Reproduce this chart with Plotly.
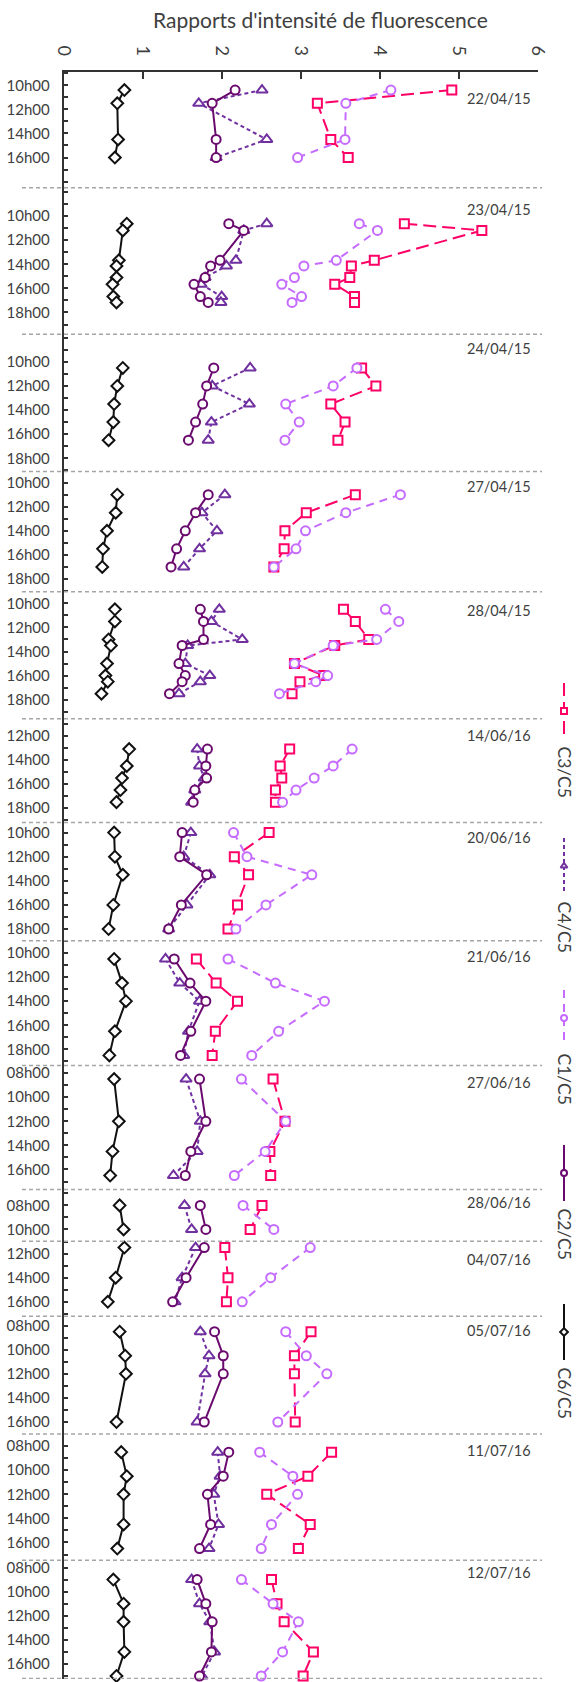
import math
import plotly.graph_objects as go

# ---------------- data ----------------
dates = ["22/04/15", "23/04/15", "24/04/15", "27/04/15", "28/04/15", "14/06/16", "20/06/16",
         "21/06/16", "27/06/16", "28/06/16", "04/07/16", "05/07/16", "11/07/16", "12/07/16"]

# sampling hours (decimal) per day
times = [
    [10.4, 11.5, 14.5, 16.0],
    [10.63, 11.19, 13.67, 14.14, 15.1, 15.66, 16.68, 17.17],
    [10.5, 12.0, 13.5, 15.0, 16.5],
    [11.0, 12.5, 14.0, 15.5, 17.0],
    [10.5, 11.5, 13.0, 13.5, 15.0, 16.0, 16.5, 17.5],
    [13.1, 14.5, 15.5, 16.5, 17.5],
    [10.0, 12.0, 13.5, 16.0, 18.0],
    [10.5, 12.5, 14.0, 16.5, 18.5],
    [8.5, 12.0, 14.5, 16.5],
    [8.0, 10.0],
    [11.5, 14.0, 16.0],
    [8.5, 10.5, 12.0, 16.0],
    [8.5, 10.5, 12.0, 14.5, 16.5],
    [9.0, 11.0, 12.5, 15.0, 17.0],
]

c6_c5 = [
    [0.77, 0.68, 0.69, 0.65],
    [0.80, 0.75, 0.70, 0.67, 0.67, 0.62, 0.63, 0.67],
    [0.75, 0.68, 0.64, 0.63, 0.57],
    [0.68, 0.66, 0.55, 0.50, 0.49],
    [0.65, 0.65, 0.57, 0.60, 0.55, 0.53, 0.56, 0.48],
    [0.83, 0.80, 0.74, 0.72, 0.67],
    [0.64, 0.65, 0.75, 0.63, 0.57],
    [0.64, 0.74, 0.79, 0.65, 0.58],
    [0.64, 0.70, 0.62, 0.59],
    [0.71, 0.76],
    [0.77, 0.66, 0.56],
    [0.71, 0.78, 0.79, 0.67],
    [0.73, 0.80, 0.76, 0.76, 0.68],
    [0.63, 0.76, 0.76, 0.77, 0.67],
]

c2_c5 = [
    [2.17, 1.88, 1.93, 1.93],
    [2.09, 2.28, 1.98, 1.86, 1.79, 1.65, 1.73, 1.83],
    [1.90, 1.81, 1.76, 1.67, 1.58],
    [1.83, 1.67, 1.54, 1.43, 1.36],
    [1.73, 1.77, 1.77, 1.50, 1.46, 1.54, 1.50, 1.34],
    [1.82, 1.80, 1.81, 1.66, 1.64],
    [1.50, 1.47, 1.81, 1.49, 1.33],
    [1.40, 1.60, 1.80, 1.61, 1.48],
    [1.72, 1.80, 1.61, 1.54],
    [1.73, 1.80],
    [1.78, 1.55, 1.38],
    [1.91, 2.02, 2.02, 1.78],
    [2.09, 2.02, 1.82, 1.86, 1.72],
    [1.69, 1.80, 1.88, 1.87, 1.72],
]

c4_c5 = [
    [2.51, 1.71, 2.57, 1.93],
    [2.57, 2.28, 2.18, 2.06, 1.79, 1.74, 2.00, 1.99],
    [2.36, 1.88, 2.35, 1.87, 1.83],
    [2.04, 1.75, 1.94, 1.72, 1.52],
    [1.97, 1.87, 2.26, 1.57, 1.54, 1.85, 1.73, 1.46],
    [1.69, 1.72, 1.78, 1.66, 1.62],
    [1.61, 1.52, 1.85, 1.56, 1.33],
    [1.29, 1.47, 1.72, 1.58, 1.52],
    [1.55, 1.73, 1.69, 1.39],
    [1.53, 1.62],
    [1.67, 1.50, 1.41],
    [1.73, 1.84, 1.79, 1.69],
    [1.95, 1.98, 1.90, 1.96, 1.84],
    [1.62, 1.72, 1.85, 1.91, 1.75],
]

c1_c5 = [
    [4.14, 3.57, 3.56, 2.96],
    [3.74, 3.97, 3.45, 3.04, 2.92, 2.76, 3.01, 2.89],
    [3.71, 3.41, 2.81, 2.98, 2.80],
    [4.26, 3.57, 3.06, 2.94, 2.66],
    [4.07, 4.24, 3.96, 3.41, 2.92, 3.34, 3.19, 2.73],
    [3.65, 3.41, 3.17, 2.94, 2.77],
    [2.15, 2.32, 3.14, 2.56, 2.18],
    [2.08, 2.68, 3.30, 2.72, 2.38],
    [2.25, 2.81, 2.55, 2.16],
    [2.27, 2.66],
    [3.12, 2.62, 2.26],
    [2.81, 3.07, 3.33, 2.71],
    [2.48, 2.90, 2.96, 2.63, 2.50],
    [2.25, 2.65, 2.97, 2.77, 2.50],
]

c3_c5 = [
    [4.91, 3.21, 3.38, 3.60],
    [4.31, 5.29, 3.93, 3.64, 3.62, 3.43, 3.68, 3.68],
    [3.77, 3.95, 3.38, 3.56, 3.47],
    [3.69, 3.07, 2.80, 2.79, 2.66],
    [3.54, 3.69, 3.86, 3.43, 2.92, 3.29, 2.99, 2.89],
    [2.86, 2.74, 2.76, 2.68, 2.68],
    [2.60, 2.16, 2.34, 2.20, 2.08],
    [1.68, 1.93, 2.20, 1.92, 1.88],
    [2.65, 2.80, 2.61, 2.62],
    [2.51, 2.36],
    [2.04, 2.08, 2.06],
    [3.13, 2.92, 2.92, 2.93],
    [3.39, 3.09, 2.57, 3.12, 2.97],
    [2.63, 2.70, 2.79, 3.16, 3.03],
]

hour_labels = [
    ["10h00", "12h00", "14h00", "16h00"],
    ["10h00", "12h00", "14h00", "16h00", "18h00"],
    ["10h00", "12h00", "14h00", "16h00", "18h00"],
    ["10h00", "12h00", "14h00", "16h00", "18h00"],
    ["10h00", "12h00", "14h00", "16h00", "18h00"],
    ["12h00", "14h00", "16h00", "18h00"],
    ["10h00", "12h00", "14h00", "16h00", "18h00"],
    ["10h00", "12h00", "14h00", "16h00", "18h00"],
    ["08h00", "10h00", "12h00", "14h00", "16h00"],
    ["08h00", "10h00"],
    ["12h00", "14h00", "16h00"],
    ["08h00", "10h00", "12h00", "14h00", "16h00"],
    ["08h00", "10h00", "12h00", "14h00", "16h00"],
    ["08h00", "10h00", "12h00", "14h00", "16h00"],
]

series_names = ["C3/C5", "C4/C5", "C1/C5", "C2/C5", "C6/C5"]
title_text = "Rapports d'intensité de fluorescence"

# ---------------- layout / style (not data) ----------------
# visible hour window of each day band (start, end)
panel_ranges = [(8.9, 18.5), (7.64, 19.8), (7.7, 19.1), (9.08, 19.05), (9.03, 19.58),
                (10.58, 19.2), (9.17, 18.97), (8.98, 19.33), (7.36, 17.67), (6.69, 10.97),
                (10.97, 17.2), (7.22, 17.0), (7.0, 17.47), (7.39, 17.25)]
date_label_hour = [11.1, 9.45, 8.9, 10.35, 10.6, 12.0, 10.4, 10.3, 8.8, 7.75, 12.5, 8.4, 8.4, 8.4]

W, H = 578, 1682
M_T, M_B = 72, 3
X0_PX, X1_PX = 63.5, 538.0
FONT = "Lato, 'Open Sans', sans-serif"
TXT = "#404040"
AX = "#333333"

styles = {
    "C3/C5": dict(color="#FF0066", dash="13px,6px", symbol="square", size=9),
    "C4/C5": dict(color="#7030A0", dash="4px,3px", symbol="triangle-up", size=10),
    "C1/C5": dict(color="#C56BFF", dash="8px,6px", symbol="circle", size=9),
    "C2/C5": dict(color="#6A0A6E", dash="solid", symbol="circle", size=9),
    "C6/C5": dict(color="#111111", dash="solid", symbol="diamond", size=9),
}
values = {"C3/C5": c3_c5, "C4/C5": c4_c5, "C1/C5": c1_c5, "C2/C5": c2_c5, "C6/C5": c6_c5}

# stacked band offsets
offsets = []
cum = 0.0
for s, e in panel_ranges:
    offsets.append(cum - s)
    cum += e - s
total = cum

fig = go.Figure()

draw_order = ["C3/C5", "C1/C5", "C4/C5", "C2/C5", "C6/C5"]
for name in draw_order:
    st = styles[name]
    xs, ys = [], []
    for p, (tl, vl) in enumerate(zip(times, values[name])):
        for t, v in zip(tl, vl):
            xs.append(v)
            ys.append(offsets[p] + t)
        xs.append(None)
        ys.append(None)
    fig.add_trace(go.Scatter(
        x=xs, y=ys, mode="lines+markers", name=name, showlegend=False,
        connectgaps=False, cliponaxis=False,
        line=dict(color=st["color"], width=2, dash=st["dash"]),
        marker=dict(symbol=st["symbol"], size=st["size"], color="white",
                    line=dict(color=st["color"], width=2)),
    ))

# y ticks: every hour, labels every two hours
tickvals, ticktext = [], []
for p, (s, e) in enumerate(panel_ranges):
    labelled = {int(l[:2]): l for l in hour_labels[p]}
    for h in range(math.ceil(s), math.floor(e) + 1):
        if s < h < e:
            tickvals.append(offsets[p] + h)
            ticktext.append(labelled.get(h, ""))

shapes = []
annotations = []
xl = 22 / W
xr = 542 / W
for p, (s, e) in enumerate(panel_ranges):
    if p > 0:
        yb = offsets[p] + s
        shapes.append(dict(type="line", xref="paper", yref="y", x0=xl, x1=xr, y0=yb, y1=yb,
                           line=dict(color="#A6A6A6", width=1.5, dash="4px,3px")))
    annotations.append(dict(x=5.94, y=offsets[p] + date_label_hour[p], xref="x", yref="y",
                            text=dates[p], showarrow=False, xanchor="right", yanchor="middle",
                            font=dict(family=FONT, size=14.5, color=TXT)))
yb = offsets[-1] + panel_ranges[-1][1]
shapes.append(dict(type="line", xref="paper", yref="y", x0=xl, x1=xr, y0=yb - 0.05, y1=yb - 0.05,
                   line=dict(color="#A6A6A6", width=1.5, dash="4px,3px")))

# title
annotations.append(dict(x=320 / W, y=1 + (M_T - 19) / (H - M_T - M_B), xref="paper", yref="paper",
                        text=title_text, showarrow=False,
                        xanchor="center", yanchor="middle",
                        font=dict(family=FONT, size=21, color=TXT)))

# legend (vertical, rotated) drawn on an auxiliary axis in pixel units
legend_centers = {"C3/C5": 711, "C4/C5": 866, "C1/C5": 1018, "C2/C5": 1173, "C6/C5": 1332}
for name in series_names:
    st = styles[name]
    c = legend_centers[name]
    fig.add_trace(go.Scatter(x=[0.5, 0.5], y=[c - 28, c + 28], mode="lines", xaxis="x2", yaxis="y2",
                             showlegend=False, hoverinfo="skip",
                             line=dict(color=st["color"], width=2, dash=st["dash"])))
    fig.add_trace(go.Scatter(x=[0.5], y=[c], mode="markers", xaxis="x2", yaxis="y2",
                             showlegend=False, hoverinfo="skip", cliponaxis=False,
                             marker=dict(symbol=st["symbol"], size=6, color="white",
                                         line=dict(color=st["color"], width=2))))
    annotations.append(dict(x=0.5, y=c + 33, xref="x2", yref="y2", text=name, showarrow=False,
                            textangle=90, xanchor="center", yanchor="top",
                            font=dict(family=FONT, size=17.5, color=TXT)))

fig.update_layout(
    width=W, height=H,
    margin=dict(l=0, r=0, t=M_T, b=M_B, autoexpand=False),
    paper_bgcolor="white", plot_bgcolor="white",
    showlegend=False,
    xaxis=dict(domain=[X0_PX / W, X1_PX / W], range=[0, 6], side="top", anchor="y",
               tickmode="linear", tick0=0, dtick=1, tickangle=90,
               ticks="inside", ticklen=7, tickwidth=1.5, tickcolor=AX,
               showline=True, linecolor=AX, linewidth=1.5,
               showgrid=False, zeroline=False, ticklabelstandoff=8,
               tickfont=dict(family=FONT, size=18, color=TXT)),
    yaxis=dict(domain=[0, 1], range=[total, 0], anchor="x",
               tickmode="array", tickvals=tickvals, ticktext=ticktext,
               ticks="inside", ticklen=5, tickwidth=1.5, tickcolor=AX,
               showline=True, linecolor=AX, linewidth=1.5,
               showgrid=False, zeroline=False, ticklabelstandoff=9,
               tickfont=dict(family=FONT, size=15, color=TXT)),
    xaxis2=dict(domain=[0.9516, 1.0], range=[0, 1], visible=False, anchor="y2"),
    yaxis2=dict(domain=[0, 1], range=[H - M_B, M_T], visible=False, anchor="x2"),
    shapes=shapes,
    annotations=annotations,
)

# remove the browser's default 8px body margin so the figure sits at the page origin
fig.write_html("out.html", config={"displayModeBar": False},
               post_script="document.body.style.margin='0';document.body.style.overflow='hidden';")
